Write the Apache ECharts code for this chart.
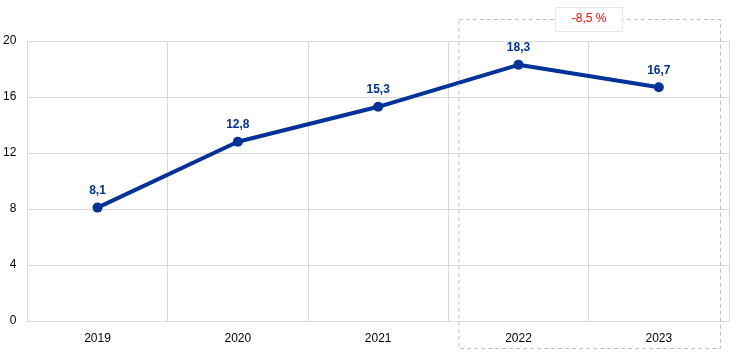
<!DOCTYPE html>
<html>
<head>
<meta charset="utf-8">
<script src="https://cdn.jsdelivr.net/npm/echarts@6/dist/echarts.min.js"></script>
<style>
    html, body { margin: 0; padding: 0; background: #fff; }
    #chart { width: 744px; height: 353px; }
</style>
</head>
<body>
<div id="chart"></div>
<script>
    const years = ['2019', '2020', '2021', '2022', '2023']
    const values = [8.1, 12.8, 15.3, 18.3, 16.7]
    const changeLabel = '-8,5 %'
    const boxYears = ['2022', '2023']

    const fmt = v => String(v).replace('.', ',')

    const chart = echarts.init(document.getElementById('chart'))
    chart.setOption({
        animation: false,
        grid: { left: 27, right: 15, top: 41, bottom: 32 },
        xAxis: {
            type: 'category',
            data: years,
            boundaryGap: true,
            axisLine: { lineStyle: { color: '#d9d9d9', width: 1 } },
            axisTick: { show: false },
            axisLabel: { color: '#000', fontFamily: 'Arial, Liberation Sans', fontSize: 12, margin: 12 },
            splitLine: { show: true, interval: 0, lineStyle: { color: '#d9d9d9' } }
        },
        yAxis: {
            type: 'value',
            min: 0, max: 20, interval: 4,
            axisLine: { show: false },
            axisTick: { show: false },
            axisLabel: { color: '#000', fontFamily: 'Arial, Liberation Sans', fontSize: 12, margin: 11 },
            splitLine: { lineStyle: { color: '#d9d9d9' } }
        },
        series: [{
            type: 'line',
            data: values,
            symbol: 'circle',
            symbolSize: 10,
            lineStyle: { color: '#003299', width: 4 },
            itemStyle: { color: '#003299' },
            label: {
                show: true,
                position: 'top',
                distance: 6,
                color: '#003299',
                fontWeight: 'bold',
                fontFamily: 'Arial, Liberation Sans',
                fontSize: 12,
                formatter: p => fmt(p.value)
            }
        }]
    })

    // dashed box round the last two years, with the change label on its top edge
    const step = chart.convertToPixel({ xAxisIndex: 0 }, boxYears[1]) - chart.convertToPixel({ xAxisIndex: 0 }, boxYears[0])
    const x0 = chart.convertToPixel({ xAxisIndex: 0 }, boxYears[0]) - step / 2 + 10
    const x1 = chart.convertToPixel({ xAxisIndex: 0 }, boxYears[1]) + step / 2 - 9
    const yTop = 19, yBot = 348
    const cx = (x0 + x1) / 2
    chart.setOption({
        graphic: [
            {
                type: 'rect',
                shape: { x: x0 + 0.5, y: yTop + 0.5, width: x1 - x0, height: yBot - yTop },
                style: { fill: 'none', stroke: '#bfbfbf', lineWidth: 1, lineDash: [4, 3] },
                z: 10
            },
            {
                type: 'rect',
                shape: { x: cx - 34 + 0.5, y: 7.5, width: 67, height: 24 },
                style: { fill: '#fff', stroke: '#e6e6e6', lineWidth: 1 },
                z: 11
            },
            {
                type: 'text',
                x: cx, y: 19,
                style: {
                    text: changeLabel,
                    fill: '#ff0000',
                    font: '12px Arial, "Liberation Sans"',
                    align: 'center',
                    verticalAlign: 'middle'
                },
                z: 12
            }
        ]
    })
</script>
</body>
</html>
